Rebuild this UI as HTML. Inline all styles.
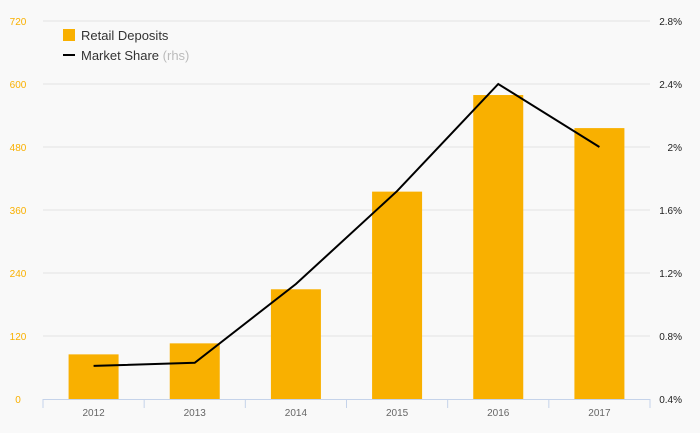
<!DOCTYPE html>
<html><head><meta charset="utf-8"><style>
body{margin:0;background:#f9f9f9;font-family:"Liberation Sans",sans-serif}
svg{display:block}
</style></head><body>
<svg width="700" height="433">
<rect width="700" height="433" fill="#f9f9f9"/>
<g id="grid"></g><g id="bars"></g><g id="axes"></g><g id="line"></g>
<g>
<rect x="63" y="29" width="12" height="12" fill="#f9b000"/>
<text x="81" y="40" font-size="13" fill="#333">Retail Deposits</text>
<line x1="63" y1="55" x2="75" y2="55" stroke="#000" stroke-width="2"/>
<text x="81" y="60" font-size="13" fill="#333">Market Share <tspan fill="#bbb">(rhs)</tspan></text>
</g>
</svg>
<script>
const categories=["2012","2013","2014","2015","2016","2017"];
const deposits=[85,106,209,395,579,516];
const share=[0.61,0.63,1.13,1.72,2.4,2.0];
const leftTicks=[0,120,240,360,480,600,720];
const rightTicks=[0.4,0.8,1.2,1.6,2.0,2.4,2.8];
const rightLabels=["0.4%","0.8%","1.2%","1.6%","2%","2.4%","2.8%"];
const NS="http://www.w3.org/2000/svg";
const X0=43,X1=650,Y0=399,Y1=21;
const band=(X1-X0)/categories.length;
const xc=i=>X0+band*(i+0.5);
const yL=v=>Y0-(v/720)*(Y0-Y1);
const yR=v=>Y0-((v-0.4)/2.4)*(Y0-Y1);
function mk(tag,attrs,parent,text){const e=document.createElementNS(NS,tag);for(const k in attrs)e.setAttribute(k,attrs[k]);if(text!=null)e.textContent=text;document.getElementById(parent).appendChild(e);return e;}
leftTicks.forEach((t,i)=>{
 if(i>0){const g=mk("line",{x1:X0,x2:X1,y1:yL(t),y2:yL(t),stroke:"#e3e3e3"},"grid");
 
 }
 const l=mk("text",{x:18,y:yL(t)+4,"font-size":10,fill:"#f9b000","text-anchor":"middle"},"axes",String(t));
 
 
});
rightTicks.forEach((t,i)=>{
 const l=mk("text",{x:682,y:yR(t)+4,"font-size":10,fill:"#222","text-anchor":"end"},"axes",rightLabels[i]);
 
 
});
const ax=mk("line",{x1:X0,x2:X1,y1:Y0+0.5,y2:Y0+0.5,stroke:"#c5d3ea"},"axes");


for(let i=0;i<=categories.length;i++){
 const tk=mk("line",{x1:X0+band*i,x2:X0+band*i,y1:Y0,y2:Y0+9,stroke:"#c5d3ea"},"axes");
 
 
}
categories.forEach((c,i)=>{
 const l=mk("text",{x:xc(i),y:416,"font-size":10,fill:"#666","text-anchor":"middle"},"axes",c);
 
 
 const b=mk("rect",{x:xc(i)-25,width:50,y:yL(deposits[i]),height:Y0-yL(deposits[i]),fill:"#f9b000"},"bars");
 
 
});
const pl=mk("polyline",{points:share.map((v,i)=>xc(i)+","+yR(v)).join(" "),fill:"none",stroke:"#000","stroke-width":2},"line");


</script>
</body></html>
